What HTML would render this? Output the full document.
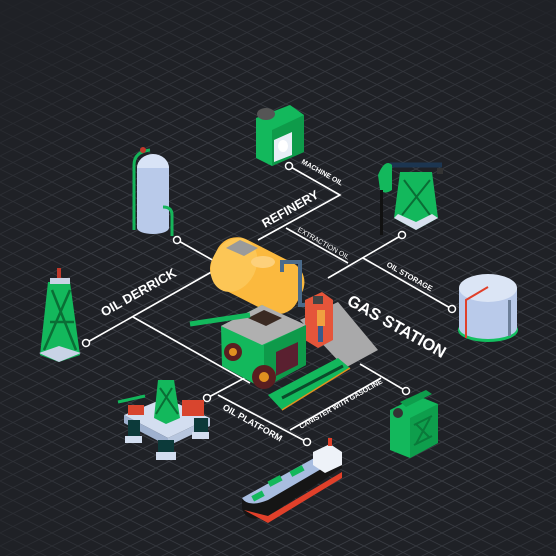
<!DOCTYPE html>
<html><head><meta charset="utf-8"><style>
html,body{margin:0;padding:0;background:#1f2126;}
svg{display:block}
text{font-family:"Liberation Sans",sans-serif;font-weight:bold;fill:#fff}
</style></head><body>
<svg width="556" height="556" viewBox="0 0 556 556" xmlns="http://www.w3.org/2000/svg">
<defs>
<pattern id="g" width="26" height="13" patternUnits="userSpaceOnUse">
<path d="M0 0L26 13M26 0L0 13" stroke="#3a3d44" stroke-width="0.8"/>
</pattern>
<radialGradient id="fade" cx="0.55" cy="0.6" r="0.75">
<stop offset="0.5" stop-color="#1f2126" stop-opacity="0"/>
<stop offset="1" stop-color="#1f2126" stop-opacity="0.9"/>
</radialGradient>
</defs>
<rect width="556" height="556" fill="#1f2126"/>
<rect width="556" height="556" fill="url(#g)"/>
<rect width="556" height="556" fill="url(#fade)"/>

<g stroke="#fff" stroke-width="1.6" fill="none">
<path d="M289 166L340 195L258 240"/>
<path d="M286 228L348 263"/>
<path d="M402 235L328 278"/>
<path d="M363 258L452 309"/>
<path d="M177 240L216 262"/>
<path d="M86 343L215 270"/>
<path d="M133 317L250 383"/>
<path d="M207 398L252 374"/>
<path d="M218 395L307 442"/>
<path d="M360 364L406 391"/>
<path d="M381 378L290 430"/>
</g>
<g fill="#1f2126" stroke="#fff" stroke-width="1.5">
<circle cx="289" cy="166" r="3.5"/><circle cx="402" cy="235" r="3.5"/>
<circle cx="452" cy="309" r="3.5"/><circle cx="177" cy="240" r="3.5"/>
<circle cx="86" cy="343" r="3.5"/><circle cx="207" cy="398" r="3.5"/>
<circle cx="307" cy="442" r="3.5"/><circle cx="406" cy="391" r="3.5"/>
</g>

<text transform="translate(301,163) rotate(29.5)" font-size="7">MACHINE OIL</text>
<text transform="translate(265,228) rotate(-29.5)" font-size="12.5">REFINERY</text>
<text transform="translate(297,231) rotate(29.5)" font-size="7" style="font-weight:normal">EXTRACTION OIL</text>
<text transform="translate(386,266) rotate(29.5)" font-size="7.5">OIL STORAGE</text>
<text transform="translate(346,304) rotate(29.5)" font-size="16.5">GAS STATION</text>
<text transform="translate(104,317) rotate(-29.5)" font-size="13">OIL DERRICK</text>
<text transform="translate(222,409) rotate(29.5)" font-size="9">OIL PLATFORM</text>
<text transform="translate(301,429) rotate(-29.5)" font-size="7">CANISTER WITH GASOLINE</text>

<path d="M134 230V165Q134 152 150 150" stroke="#15b55a" stroke-width="3" fill="none"/>
<rect x="137" y="155" width="32" height="75" rx="14" fill="#b9caea"/>
<ellipse cx="153" cy="168" rx="16" ry="14" fill="#d8e3f6"/>
<rect x="137" y="168" width="32" height="60" fill="#b9caea"/>
<ellipse cx="153" cy="228" rx="16" ry="6" fill="#b9caea"/>
<path d="M163 207Q172 207 172 215V236" stroke="#15b55a" stroke-width="3" fill="none"/>
<circle cx="143" cy="150" r="3" fill="#c0392b"/>

<path d="M256 118L290 105L304 115V152L272 166L256 158Z" fill="#13b85c"/>
<path d="M272 130L304 115V152L272 166Z" fill="#0e9b4a"/>
<ellipse cx="266" cy="114" rx="9" ry="6" fill="#555"/>
<path d="M274 140L292 132V155L274 162Z" fill="#e8eef6"/>
<ellipse cx="283" cy="146" rx="5" ry="6" fill="#fff"/>

<path d="M390 165L442 165" stroke="#1c3550" stroke-width="5"/>
<path d="M378 175Q385 158 392 165L392 190Q385 195 380 190Z" fill="#13b85c"/>
<rect x="380" y="190" width="3" height="45" fill="#111"/>
<path d="M400 172H432L438 218L416 230L394 218Z" fill="#13b85c"/>
<path d="M404 180L430 215M430 180L402 215" stroke="#0a6e35" stroke-width="2"/>
<path d="M394 218L416 230L438 218L432 214L416 222L398 214Z" fill="#d8e0ee"/>
<rect x="437" y="168" width="6" height="6" fill="#333"/>

<ellipse cx="488" cy="330" rx="30" ry="12" fill="#13c060"/>
<rect x="459" y="288" width="58" height="40" fill="#b9caea"/>
<ellipse cx="488" cy="328" rx="29" ry="11" fill="#b9caea"/>
<ellipse cx="488" cy="288" rx="29" ry="14" fill="#dbe5f5"/>
<path d="M466 338V300L488 287" stroke="#e0402a" stroke-width="2" fill="none"/>
<rect x="508" y="300" width="3" height="36" fill="#6c7f99"/>

<path d="M48 282H70L80 355L59 362L40 355Z" fill="#13b85c"/>
<path d="M52 290L76 350M70 290L44 350M50 322H74" stroke="#0a6e35" stroke-width="2.5"/>
<path d="M39 353L59 362L81 353L59 346Z" fill="#c8d3e6"/>
<rect x="50" y="278" width="20" height="6" fill="#c8d3e6"/>
<rect x="57" y="268" width="4" height="10" fill="#c0392b"/>

<path d="M124 415L165 398L210 418L168 438Z" fill="#d3def0"/>
<path d="M124 415L168 438V446L124 423Z" fill="#9fb1cf"/>
<path d="M168 438L210 418V426L168 446Z" fill="#b7c6de"/>
<rect x="128" y="420" width="12" height="20" fill="#0c3a3a"/>
<rect x="158" y="440" width="16" height="18" fill="#0c3a3a"/>
<rect x="194" y="418" width="14" height="18" fill="#0c3a3a"/>
<rect x="125" y="436" width="17" height="7" fill="#d3def0"/>
<rect x="156" y="452" width="20" height="8" fill="#d3def0"/>
<rect x="192" y="432" width="17" height="7" fill="#d3def0"/>
<path d="M158 380H174L180 418L166 424L154 418Z" fill="#13b85c"/>
<path d="M160 388L178 414M172 388L156 414" stroke="#0a6e35" stroke-width="2"/>
<rect x="182" y="400" width="22" height="16" fill="#d8452e"/>
<rect x="128" y="405" width="16" height="10" fill="#d8452e"/>
<path d="M118 402L145 396" stroke="#13b85c" stroke-width="3"/>

<!-- ship -->
<path d="M242 500L318 458Q342 450 342 468L268 516Q246 524 242 508Z" fill="#151515"/>
<path d="M244 510L268 523L342 478V472L268 516Z" fill="#e0402a"/>
<path d="M242 498L316 457Q338 448 340 458L268 500Q248 508 242 498Z" fill="#a8bde0"/>
<rect x="268" y="478" width="14" height="6" fill="#13b85c" transform="rotate(-28 275 481)"/>
<rect x="290" y="468" width="14" height="6" fill="#13b85c" transform="rotate(-28 297 471)"/>
<rect x="252" y="493" width="12" height="6" fill="#13b85c" transform="rotate(-28 258 496)"/>
<path d="M313 452L330 444L342 452V465L325 473L313 465Z" fill="#eef2f8"/>
<rect x="328" y="438" width="4" height="8" fill="#e0402a"/>

<path d="M390 410L418 396L438 404V443L410 458L390 450Z" fill="#13b85c"/>
<path d="M410 418L438 404V443L410 458Z" fill="#0e9e4c"/>
<path d="M400 402L426 390L432 394L406 407Z" fill="#0e9e4c"/>
<circle cx="398" cy="413" r="5" fill="#333"/>
<path d="M414 425L432 416M414 445L432 436M416 424L430 438M430 418L416 444" stroke="#0a7a3a" stroke-width="2"/>

<path d="M300 320L338 302L378 350L345 368Z" fill="#a9a9aa"/>
<rect x="210" y="248" width="95" height="55" rx="22" fill="#fbb93e" transform="rotate(27 257 275)"/>
<ellipse cx="234" cy="265" rx="22" ry="28" fill="#fcc656" transform="rotate(27 234 265)"/>
<ellipse cx="263" cy="262" rx="12" ry="6" fill="#fdd07a"/>
<path d="M226 248L240 240L258 248L244 256Z" fill="#9a9a9a"/>
<path d="M282 272V262H300V305H316" stroke="#4a6a8a" stroke-width="4" fill="none"/>
<path d="M305 300L322 292L333 300V340L318 348L305 340Z" fill="#e5553a"/>
<rect x="313" y="296" width="10" height="8" fill="#444"/>
<rect x="317" y="310" width="8" height="16" fill="#f0a040"/>
<rect x="318" y="326" width="5" height="16" fill="#3a5a8a"/>
<path d="M221 326L262 305L304 327L306 365L262 388L222 366Z" fill="#13b85c"/>
<path d="M221 326L262 345L306 325L262 305Z" fill="#b0b0b0"/>
<path d="M248 318L264 310L282 318L266 326Z" fill="#3a2a22"/>
<path d="M264 345L306 325V365L264 388Z" fill="#0e9a4a"/>
<path d="M276 352L298 342V365L276 376Z" fill="#5a2030"/>
<path d="M190 324L250 315" stroke="#13b85c" stroke-width="5"/>
<circle cx="233" cy="352" r="9" fill="#5a1e20"/><circle cx="233" cy="352" r="4" fill="#e09020"/>
<circle cx="264" cy="377" r="12" fill="#5a1e20"/><circle cx="264" cy="377" r="5" fill="#e09020"/>
<path d="M268 395L338 358L350 368L282 410Z" fill="#13b85c"/>
<path d="M282 398L343 366" stroke="#0a4a2a" stroke-width="3"/>
<path d="M282 410L350 368" stroke="#e09020" stroke-width="1.5"/>
</svg>
</body></html>
